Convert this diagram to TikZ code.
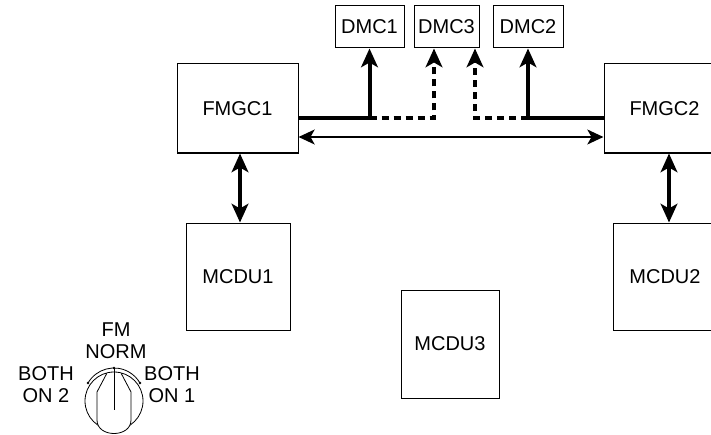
\documentclass[tikz,border=0pt]{standalone}
\usepackage{fontspec}
\setmainfont{Liberation Sans}
\usetikzlibrary{positioning,arrows.meta}

\begin{document}
\begin{tikzpicture}[
    x=0.75pt, y=-0.75pt,
    every node/.style={font=\fontsize{15pt}{16.5pt}\selectfont, align=center},
    box/.style={draw, line width=0.75pt, inner sep=0pt},
    fmgc/.style={box, minimum width=90.75pt, minimum height=66.75pt},
    mcdu/.style={box, minimum width=78pt, minimum height=80.25pt},
    dmc/.style={box, minimum height=31.5pt},
    bus/.style={line width=3pt},
    busDash/.style={bus, dash pattern=on 5.5pt off 3.5pt},
    tap/.style={-{Stealth[length=14pt,width=12.5pt,inset=3.5pt]}},
    link/.style={{Stealth[length=12pt,width=11pt,inset=3pt]}-{Stealth[length=12pt,width=11pt,inset=3pt]}, line width=2.2pt},
    duplex/.style={{Stealth[length=14pt,width=12.5pt,inset=3.5pt]}-{Stealth[length=14pt,width=12.5pt,inset=3.5pt]}, line width=2.6pt},
    knob/.style={line width=0.6pt},
]
\useasboundingbox (0,0) rectangle (711,435);

% Guidance computers and display management computers
\node[fmgc] (fmgc1) at (237.5,108.5) {FMGC1};
\node[fmgc] (fmgc2) at (664.5,108.5) {FMGC2};
\node[dmc, minimum width=51.75pt] (dmc1) at (369.5,27) {DMC1};
\node[dmc, minimum width=48.75pt] (dmc3) at (446.5,27) {DMC3};
\node[dmc, minimum width=52.5pt]  (dmc2) at (528,27)   {DMC2};

% Control and display units
\node[mcdu] (mcdu1) at (238,276.5) {MCDU1};
\node[mcdu] (mcdu2) at (665,276.5) {MCDU2};
\node[mcdu, minimum width=73.5pt, minimum height=81pt] (mcdu3) at (450,344) {MCDU3};

% Upper bus with the DMC taps
\coordinate (busL) at (fmgc1.east |- 0,118);
\coordinate (busR) at (fmgc2.west |- 0,118);
\coordinate (tap1) at (dmc1.south |- busL);
\coordinate (tap2) at (dmc2.south |- busL);
\coordinate (tap3l) at (434,118);
\coordinate (tap3r) at (475,118);

\draw[bus] (busL) -- (tap1);
\draw[bus] (tap2) -- (busR);
\draw[bus, tap] (tap1) -- (dmc1.south);
\draw[bus, tap] (tap2) -- (dmc2.south);
\draw[busDash, tap] (tap1) -- (tap3l) -- (tap3l |- dmc3.south);
\draw[busDash, tap] (tap2) -- (tap3r) -- (tap3r |- dmc3.south);

% Cross link between the two FMGCs
\draw[link] (fmgc1.east |- 0,137) -- (fmgc2.west |- 0,137);

% FMGC to MCDU links
\draw[duplex] (fmgc1.south -| 240,0) -- (mcdu1.north -| 240,0);
\draw[duplex] (fmgc2.south -| 669,0) -- (mcdu2.north -| 669,0);

% FM selector switch
\node (fmNorm) at (116,341)   {FM\\NORM};
\node (both2)  at (46,384.5)  {BOTH\\ON 2};
\node (both1)  at (172,384.5) {BOTH\\ON 1};

\begin{scope}[shift={(114,398)}, y=0.75pt, knob]
  \draw (150:30) arc[start angle=150, end angle=30, radius=30];
  \fill (150:30) circle[radius=1.3] (90:30) circle[radius=1.3] (30:30) circle[radius=1.3];
  \draw (0,-3) circle[radius=29];
  \draw[fill=white] (-7,25) -- (-17,6) -- (-17,-22)
      .. controls (-17,-40) and (17,-40) .. (17,-22) -- (17,6) -- (7,25);
  \draw (0,30) -- (0,-12);
\end{scope}

\end{tikzpicture}
\end{document}
